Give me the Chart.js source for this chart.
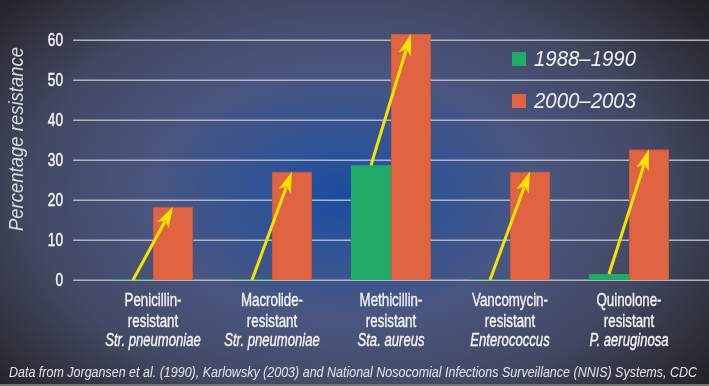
<!DOCTYPE html>
<html>
<head>
<meta charset="utf-8">
<script src="https://cdn.jsdelivr.net/npm/chart.js@4.4.1/dist/chart.umd.min.js"></script>
<style>
  html, body { margin: 0; padding: 0; background: #1c1c20; }
  #wrap { width: 709px; height: 386px; }
</style>
</head>
<body>
<div id="wrap"><canvas id="chart" width="709" height="386"></canvas></div>
<script>
// data
const drugNames = ['Penicillin-', 'Macrolide-', 'Methicillin-', 'Vancomycin-', 'Quinolone-'];
const species = ['Str. pneumoniae', 'Str. pneumoniae', 'Sta. aureus', 'Enterococcus', 'P. aeruginosa'];
const seriesNames = ['1988\u20131990', '2000\u20132003'];
const early = [0, 0, 28.7, 0, 1.5];
const late = [18.3, 27.1, 61.5, 27.1, 32.7];
const yMax = 65;
const yStep = 10;
const yTitle = 'Percentage resistance';
const sourceNote = 'Data from Jorgansen et al. (1990), Karlowsky (2003) and National Nosocomial Infections Surveillance (NNIS) Systems, CDC';

const GREEN = '#22ab68';
const ORANGE = '#e16442';
const YELLOW = '#f4e400';
const SANS = '"Liberation Sans", Arimo, "Roboto", sans-serif';

// helvetica condensed look: squeeze a normal face sideways
function narrowText(ctx, text, x, y, sx) {
  ctx.save();
  ctx.translate(x, y);
  ctx.scale(sx, 1);
  ctx.fillText(text, 0, 0);
  ctx.strokeText(text, 0, 0);
  ctx.restore();
}

const backdrop = {
  id: 'backdrop',
  beforeDraw(chart) {
    const { ctx, width, height } = chart;
    ctx.save();
    ctx.fillStyle = '#1a1a1e';
    ctx.fillRect(0, 0, width, height);
    ctx.translate(345, 195);
    ctx.scale(1.55, 1);
    const g = ctx.createRadialGradient(0, 0, 0, 0, 0, 330);
    g.addColorStop(0, '#1a4c9e');
    g.addColorStop(0.14, '#2d5398');
    g.addColorStop(0.38, '#4a5680');
    g.addColorStop(0.62, '#434862');
    g.addColorStop(0.84, '#2a2b33');
    g.addColorStop(1, '#18181b');
    ctx.fillStyle = g;
    ctx.fillRect(-345 / 1.55, -195, width / 1.55, height);
    ctx.restore();
    ctx.fillStyle = '#707176';
    ctx.fillRect(0, height - 2, width, 2);
  },
  beforeDatasetsDraw(chart) {
    // grid lines run past the plot on both sides, labels drawn condensed
    const { ctx, width } = chart;
    const y = chart.scales.y;
    ctx.save();
    ctx.strokeStyle = 'rgba(196,200,212,0.85)';
    ctx.lineWidth = 1.5;
    y.ticks.forEach(t => {
      const py = Math.round(y.getPixelForValue(t.value)) + 0.25;
      ctx.beginPath();
      ctx.moveTo(73, py);
      ctx.lineTo(width, py);
      ctx.stroke();
    });
    ctx.fillStyle = '#f4f4f8';
    ctx.strokeStyle = '#f4f4f8';
    ctx.lineWidth = 0.5;
    ctx.font = '19px ' + SANS;
    ctx.textAlign = 'right';
    ctx.textBaseline = 'middle';
    y.ticks.forEach(t => {
      const py = Math.round(y.getPixelForValue(t.value));
      narrowText(ctx, String(t.value), 63, py + 1, 0.72);
    });
    ctx.restore();
  },
  afterDatasetsDraw(chart) {
    const { ctx } = chart;
    const a = chart.getDatasetMeta(0).data;
    const b = chart.getDatasetMeta(1).data;
    ctx.save();
    ctx.strokeStyle = YELLOW;
    ctx.fillStyle = YELLOW;
    ctx.lineWidth = 3;
    a.forEach((bar, i) => {
      const x0 = bar.x;
      const y0 = early[i] > 0.5 ? bar.y : bar.base;
      const x1 = b[i].x, y1 = b[i].y;
      const ang = Math.atan2(y1 - y0, x1 - x0);
      const c = Math.cos(ang), s = Math.sin(ang);
      const len = 21, half = 6.5;
      const bx = x1 - len * c, by = y1 - len * s;
      ctx.beginPath();
      ctx.moveTo(x0, y0);
      ctx.lineTo(bx + 4 * c, by + 4 * s);
      ctx.stroke();
      ctx.beginPath();
      ctx.moveTo(x1, y1);
      ctx.lineTo(bx - half * s, by + half * c);
      ctx.lineTo(bx + 5 * c, by + 5 * s);
      ctx.lineTo(bx + half * s, by - half * c);
      ctx.closePath();
      ctx.fill();
    });
    ctx.restore();
  },
  afterDraw(chart) {
    const { ctx } = chart;
    const x = chart.scales.x;
    ctx.save();
    ctx.fillStyle = '#f2f2f6';
    ctx.strokeStyle = '#f2f2f6';
    ctx.lineWidth = 0.4;
    ctx.textAlign = 'center';
    ctx.textBaseline = 'middle';
    drugNames.forEach((name, i) => {
      const px = x.getPixelForValue(i);
      ctx.font = '19px ' + SANS;
      narrowText(ctx, name, px, 301, 0.7);
      narrowText(ctx, 'resistant', px, 322, 0.7);
      ctx.font = 'italic 19px ' + SANS;
      narrowText(ctx, species[i], px, 341, 0.69);
    });

    // y title
    ctx.save();
    ctx.translate(17, 139);
    ctx.rotate(-Math.PI / 2);
    ctx.font = 'italic 20px ' + SANS;
    ctx.fillStyle = '#d9dbe4';
    ctx.fillText(yTitle, 0, 0, 184);
    ctx.restore();

    // legend
    ctx.textAlign = 'left';
    chart.data.datasets.forEach((ds, i) => {
      const cy = 59 + i * 42;
      ctx.fillStyle = ds.backgroundColor;
      ctx.fillRect(512, cy - 7, 14, 14);
      ctx.fillStyle = '#eeeef4';
      ctx.font = 'italic 22px ' + SANS;
      ctx.fillText(ds.label, 534, cy + 1, 102);
    });

    // source line
    ctx.fillStyle = '#e4e4ea';
    ctx.font = 'italic 14px ' + SANS;
    ctx.fillText(sourceNote, 9, 373, 688);
    ctx.restore();
  }
};

new Chart(document.getElementById('chart'), {
  type: 'bar',
  data: {
    labels: drugNames.map((d, i) => [d, 'resistant', species[i]]),
    datasets: [
      { label: seriesNames[0], data: early, backgroundColor: GREEN, minBarLength: 1,
        barPercentage: 1, categoryPercentage: 0.672 },
      { label: seriesNames[1], data: late, backgroundColor: ORANGE,
        borderColor: '#c95a3c', borderWidth: 1,
        barPercentage: 1, categoryPercentage: 0.672 }
    ]
  },
  options: {
    responsive: false,
    animation: false,
    layout: { padding: { left: 0, right: 20.5, top: 20, bottom: 0 } },
    plugins: { legend: { display: false }, tooltip: { enabled: false } },
    scales: {
      x: {
        grid: { display: false, drawTicks: false },
        border: { display: false },
        ticks: { display: false },
        afterFit(s) { s.height = 106; }
      },
      y: {
        min: 0,
        max: yMax,
        grid: { display: false, drawTicks: false },
        border: { display: false },
        ticks: { display: false, stepSize: yStep, includeBounds: false },
        afterFit(s) { s.width = 93.5; }
      }
    }
  },
  plugins: [backdrop]
});
</script>
</body>
</html>
